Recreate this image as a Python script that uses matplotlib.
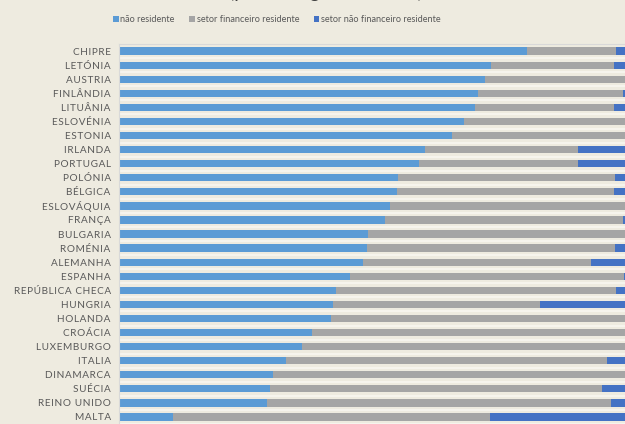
import matplotlib.pyplot as plt
import numpy as np

paises = ['CHIPRE', 'LETÓNIA', 'AUSTRIA', 'FINLÂNDIA', 'LITUÂNIA', 'ESLOVÉNIA',
          'ESTONIA', 'IRLANDA', 'PORTUGAL', 'POLÓNIA', 'BÉLGICA', 'ESLOVÁQUIA',
          'FRANÇA', 'BULGARIA', 'ROMÉNIA', 'ALEMANHA', 'ESPANHA',
          'REPÚBLICA CHECA', 'HUNGRIA', 'HOLANDA', 'CROÁCIA', 'LUXEMBURGO',
          'ITALIA', 'DINAMARCA', 'SUÉCIA', 'REINO UNIDO', 'MALTA']

# % do total
nao_residente = [80.7, 73.5, 72.4, 70.9, 70.4, 68.2, 65.9, 60.5, 59.2, 55.2,
                 54.9, 53.6, 52.6, 49.3, 49.0, 48.3, 45.7, 42.8, 42.3, 41.9,
                 38.1, 36.2, 33.1, 30.5, 29.8, 29.3, 10.7]
fin_residente = [17.5, 24.4, 27.6, 28.8, 27.5, 31.8, 34.1, 30.2, 31.5, 42.9,
                 43.0, 46.4, 47.1, 50.7, 49.1, 45.0, 54.1, 55.4, 40.9, 58.1,
                 61.9, 63.8, 63.3, 69.5, 65.7, 67.9, 62.7]
nao_fin_residente = [100 - a - b for a, b in zip(nao_residente, fin_residente)]

bg = '#EEEBE0'
c1, c2, c3 = '#5B9BD5', '#A5A5A5', '#4472C4'

plt.rcParams['font.family'] = ['Lato', 'DejaVu Sans']

fig = plt.figure(figsize=(6.25, 4.24), dpi=100, facecolor=bg)
ax = fig.add_axes([0.1904, 0.0, 0.8096, 0.896], facecolor=bg)

y = np.arange(len(paises))
h = 0.52
ax.barh(y, nao_residente, height=h, color=c1, label='não residente')
ax.barh(y, fin_residente, left=nao_residente, height=h, color=c2,
        label='setor financeiro residente')
left3 = [a + b for a, b in zip(nao_residente, fin_residente)]
ax.barh(y, nao_fin_residente, left=left3, height=h, color=c3,
        label='setor não financeiro residente')

ax.set_xlim(0, 100)
ax.set_ylim(len(paises) - 0.5, -0.5)
ax.set_xticks([])
ax.set_yticks(y)
# letter-spaced labels
ax.set_yticklabels(['\u200a'.join(p) for p in paises], fontsize=7.2, color='#595959')
ax.tick_params(axis='y', length=0, pad=6)

# light grid between rows
ax.set_yticks(np.arange(-0.5, len(paises), 1), minor=True)
ax.tick_params(axis='y', which='minor', length=0)
ax.grid(which='minor', axis='y', color='#F8F6F0', lw=1.2)
ax.set_axisbelow(True)

for s in ['right', 'bottom']:
    ax.spines[s].set_visible(False)
ax.spines['left'].set_color('#D9D9D9')
ax.spines['top'].set_color('#D9D9D9')

# title is cropped at the top edge in the original
fig.text(326 / 625, 1.0 + 1.5 / 424, '(percentagem do total)', ha='center',
         va='baseline', fontsize=14, color='#404040')

fig.legend(loc='center', bbox_to_anchor=(277 / 625, 1 - 19.5 / 424),
           ncol=3, frameon=False, fontsize=6.6, labelcolor='#595959',
           handlelength=0.6, handleheight=0.6, handletextpad=0.2,
           columnspacing=1.6)

fig.savefig('out.png', dpi=100, facecolor=bg)
